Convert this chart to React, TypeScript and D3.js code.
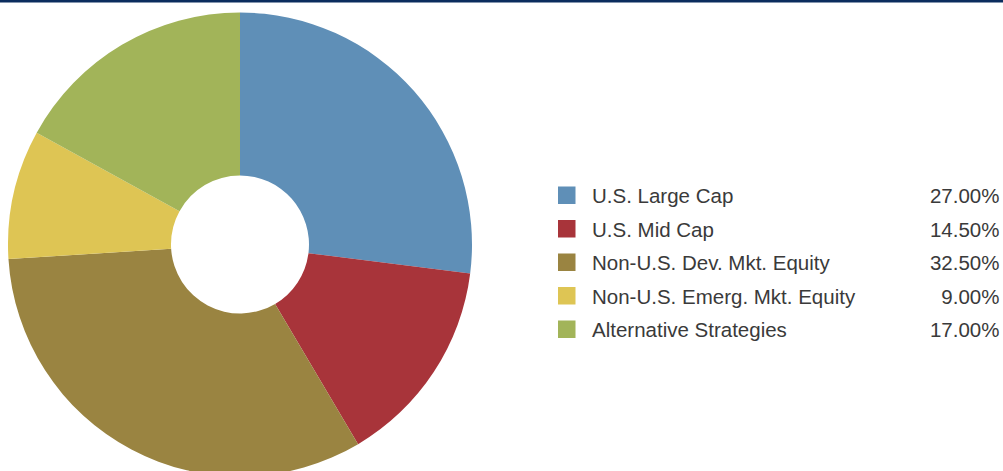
import React from "react";
import * as d3 from "d3";

const categories = [
  "U.S. Large Cap",
  "U.S. Mid Cap",
  "Non-U.S. Dev. Mkt. Equity",
  "Non-U.S. Emerg. Mkt. Equity",
  "Alternative Strategies",
];
const values = [27.0, 14.5, 32.5, 9.0, 17.0];
const colors = ["#5F8FB7", "#A8343A", "#9A8441", "#DEC554", "#A2B459"];

const W = 1003;
const H = 471;

export default function App() {
  const cx = 240;
  const cy = 244.5;
  const outerR = 232;
  const innerR = 69;
  const pie = d3.pie<number>().sort(null).value((d) => d).startAngle(0).endAngle(2 * Math.PI);
  const arcs = pie(values);
  const arcGen = d3.arc<d3.PieArcDatum<number>>().innerRadius(innerR).outerRadius(outerR);
  const legendY = d3.scaleLinear().domain([0, 1]).range([195, 228.5]);

  return (
    <svg
      width={W}
      height={H}
      style={{ position: "absolute", left: 0, top: 0, display: "block" }}
    >
      <rect x={0} y={0} width={W} height={H} fill="#ffffff" />
      <rect x={0} y={0} width={W} height={2.5} fill="#0B2D5E" />
      <g transform={`translate(${cx},${cy})`}>
        {arcs.map((a, i) => (
          <path key={i} d={arcGen(a) || ""} fill={colors[i]} />
        ))}
      </g>
      <g fontFamily="'Liberation Sans', Arial, sans-serif" fontSize={20.5} fill="#3a3a3a">
        {categories.map((c, i) => {
          const y = legendY(i);
          return (
            <g key={c}>
              <rect x={558} y={y - 8.5} width={17.5} height={17.5} fill={colors[i]} />
              <text x={592} y={y + 8}>{c}</text>
              <text x={999.5} y={y + 8} textAnchor="end">
                {values[i].toFixed(2)}%
              </text>
            </g>
          );
        })}
      </g>
    </svg>
  );
}
